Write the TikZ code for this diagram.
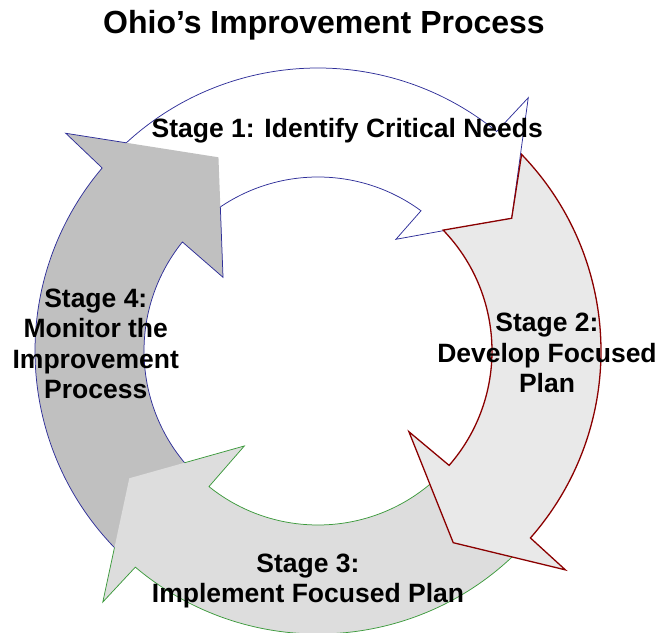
\documentclass[tikz,border=0pt]{standalone}
\usepackage{fontspec}
\setmainfont{Liberation Sans}
\usepackage{tikz}
\definecolor{navy}{HTML}{2E2E99}
\definecolor{maroon}{HTML}{8B0000}
\definecolor{leaf}{HTML}{3C9A3C}
\definecolor{silver}{HTML}{C0C0C0}
\definecolor{ash}{HTML}{DDDDDD}
\definecolor{mist}{HTML}{E9E9E9}
\newcommand{\shapeone}{(135:283) arc[start angle=135,end angle=50.85,radius=283]
  -- (50.3:329.2) -- (34.42:234.8) -- (55.1:136.2) -- (53.7:174)
  arc[start angle=53.7,end angle=135,radius=174] -- cycle}
\newcommand{\shapetwo}{(44:283) arc[start angle=44,end angle=-41.35,radius=283]
  -- (-41.5:330.3) -- (-54.8:234.6) -- (-41.6:121.6) -- (-41.1:174)
  arc[start angle=-41.1,end angle=44,radius=174] -- (34.42:234.8) -- cycle}
\newcommand{\shapethree}{(-44:283) arc[start angle=-44,end angle=-130.2,radius=283]
  -- (-130.6:330.7) -- (-146:227.6) -- (-127.8:120.2) -- (-128.8:174)
  arc[start angle=-128.8,end angle=-44,radius=174] -- cycle}
\newcommand{\shapefour}{(227:283) arc[start angle=227,end angle=139.7,radius=283]
  -- (139.2:333.2) -- (117.2:217.8) -- (142.2:120.2) -- (141.2:174)
  arc[start angle=141.2,end angle=227,radius=174] -- cycle}

\begin{document}
\begin{tikzpicture}[x=1bp,y=1bp,
    eoclip/.code={\pgfseteorule},
    stagetext/.style={font=\fontsize{26.5bp}{30.5bp}\selectfont\bfseries,align=center,inner sep=0pt}]
  \useasboundingbox (-318,-282) rectangle (342,351);
  \draw[navy,fill=white,line width=0.75pt] \shapeone;
  \fill[silver] \shapefour;
  \begin{scope}
    \clip[eoclip] (-400,-400) rectangle (400,400) \shapeone;
    \draw[navy,line width=0.75pt] \shapefour;
  \end{scope}
  \fill[ash] \shapethree;
  \begin{scope}
    \clip[eoclip] (-400,-400) rectangle (400,400) \shapefour;
    \draw[leaf,line width=0.75pt] \shapethree;
  \end{scope}
  \draw[maroon,fill=mist,line width=1.3pt] \shapetwo;

  \node[font=\fontsize{32bp}{38bp}\selectfont\bfseries,anchor=base,inner sep=0pt] (title) at (6,317.7)
      {Ohio’s Improvement Process};
  \node[stagetext,anchor=base] (one) at (29.2,213.7) {Stage 1: Identify Critical Needs};
  \node[stagetext] (two) at (229,-2.2) {Stage 2:\\Develop Focused\\Plan};
  \node[stagetext] (three) at (-10,-230) {Stage 3:\\Implement Focused Plan};
  \node[stagetext] (four) at (-222.2,7.3) {Stage 4:\\Monitor the\\Improvement\\Process};
\end{tikzpicture}
\end{document}
